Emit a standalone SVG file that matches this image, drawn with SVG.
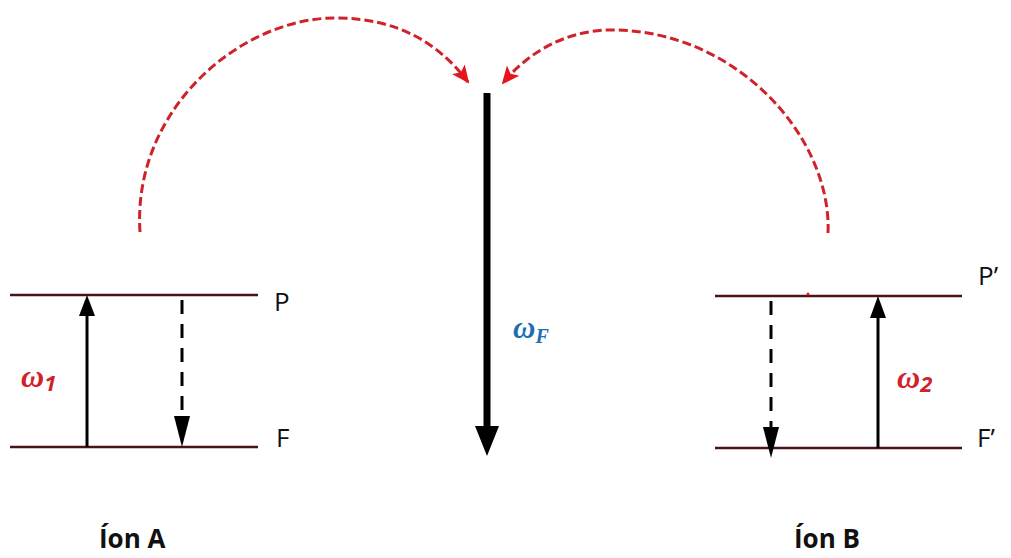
<svg xmlns="http://www.w3.org/2000/svg" width="1011" height="558" viewBox="0 0 1011 558">
<style>
.lvl{stroke:#4a1416;stroke-width:2.5;fill:none}
.up{stroke:#000;stroke-width:3;fill:none}
.dn{stroke:#000;stroke-width:3;fill:none;stroke-dasharray:14 10}
.arc{stroke:#d0222a;stroke-width:3;fill:none;stroke-dasharray:9 4}
.lbl{font-family:"Open Sans","Liberation Sans",sans-serif;font-size:26px;fill:#111}
.om{font-family:"Liberation Serif",serif;font-weight:bold;font-style:italic;font-size:32px;fill:#d0222a}
.sub{font-family:"Open Sans","Liberation Sans",sans-serif;font-weight:bold;font-size:22px;fill:#d0222a}
.ion{font-family:"Open Sans","Liberation Sans",sans-serif;font-weight:bold;font-size:26px;fill:#111}
</style>
<defs>
<marker id="ahr" markerWidth="18" markerHeight="18" refX="16" refY="9" orient="auto" markerUnits="userSpaceOnUse" viewBox="0 0 18 18">
<path d="M0,1 L18,9 L0,17 L4,9 Z" fill="#e8141c"/>
</marker>
</defs>
<g id="ionA">
<line class="lvl" x1="10" y1="295" x2="258" y2="295"/>
<line class="lvl" x1="10" y1="447" x2="258" y2="447"/>
<line class="up" x1="87" y1="447" x2="87" y2="312"/>
<polygon points="87,295 79,316 95,316" fill="#000"/>
<line class="dn" x1="182" y1="300" x2="182" y2="420"/>
<polygon points="182,447 174,416 190,416" fill="#000"/>
<text class="lbl" x="274" y="311">P</text>
<text class="lbl" x="276" y="447">F</text>
<text class="om" x="21" y="387">ω<tspan class="sub" dy="4">1</tspan></text>
<text class="ion" x="99" y="548">Íon A</text>
</g>
<g id="ionB">
<line class="lvl" x1="715" y1="296" x2="962" y2="296"/>
<line class="lvl" x1="715" y1="448" x2="962" y2="448"/>
<circle cx="808" cy="294" r="1.5" fill="#e8141c"/>
<line class="up" x1="878" y1="448" x2="878" y2="313"/>
<polygon points="878,296 870,318 886,318" fill="#000"/>
<line class="dn" x1="771" y1="301" x2="771" y2="430"/>
<polygon points="771,458 763,427 779,427" fill="#000"/>
<text class="lbl" x="978" y="285">P’</text>
<text class="lbl" x="977" y="447">F’</text>
<text class="om" x="897" y="388">ω<tspan class="sub" dy="4">2</tspan></text>
<text class="ion" x="794" y="548">Íon B</text>
</g>
<g id="center">
<line x1="487" y1="93" x2="487" y2="428" stroke="#000" stroke-width="7"/>
<polygon points="487,456 475,426 499,426" fill="#000"/>
<text x="513" y="338" font-family="Liberation Serif,serif" font-weight="bold" font-style="italic" font-size="31" fill="#1f6fb0">ω<tspan font-size="20" dy="5">F</tspan></text>
</g>
<g id="connectors">
<path class="arc" d="M140,232 C132,110 240,18 335,18 C400,18 440,45 468,82" marker-end="url(#ahr)"/>
<path class="arc" d="M828,233 C832,140 740,32 615,30 C570,29 530,50 503,83" marker-end="url(#ahr)"/>
</g>
</svg>
